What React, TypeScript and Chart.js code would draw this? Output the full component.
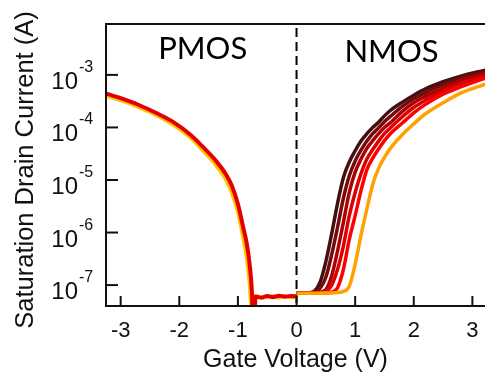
import React, { useEffect, useRef } from 'react';
import { Chart, registerables } from 'chart.js';

Chart.register(...registerables);

// ---- data ----
const X_TICKS = [-3, -2, -1, 0, 1, 2, 3];
const Y_TICKS = [1e-7, 1e-6, 1e-5, 1e-4, 1e-3];
const Y_TICK_EXP = ['-7', '-6', '-5', '-4', '-3'];

// PMOS sweep (gate voltage, V) and saturation drain current (A)
const PMOS_V = [-3.3, -3.0, -2.7, -2.4, -2.1, -1.8, -1.6, -1.4, -1.2, -1.1, -1.0, -0.9, -0.85, -0.8, -0.76, -0.74, -0.72, -0.7, -0.6, -0.5, -0.4, -0.3, -0.2, -0.1, 0];
const PMOS_RED = [4.6e-4, 3.6e-4, 2.7e-4, 1.9e-4, 1.26e-4, 7.1e-5, 4.3e-5, 2.5e-5, 1.26e-5, 7.6e-6, 3.5e-6, 1.12e-6, 6.3e-7, 2.5e-7, 7.1e-8, 1.6e-8, 1.6e-8, 6.0e-8, 5.8e-8, 6.2e-8, 5.9e-8, 6.3e-8, 6.0e-8, 6.2e-8, 6.1e-8];
const PMOS_YELLOW = [4.2e-4, 3.3e-4, 2.45e-4, 1.74e-4, 1.12e-4, 6.3e-5, 3.7e-5, 2.1e-5, 1.0e-5, 5.6e-6, 2.5e-6, 7.1e-7, 3.5e-7, 1.12e-7, 2.5e-8, 1.6e-8, 1.6e-8, 6.3e-8, 5.7e-8, 6.0e-8, 6.1e-8, 5.8e-8, 6.2e-8, 5.9e-8, 6.0e-8];

// NMOS sweep
const NMOS_V = [0, 0.2, 0.3, 0.4, 0.5, 0.6, 0.7, 0.8, 0.9, 1.0, 1.1, 1.2, 1.3, 1.4, 1.5, 1.6, 1.8, 2.0, 2.2, 2.5, 2.8, 3.1, 3.3];
const NMOS_1 = [7.0e-8, 7.1e-8, 7.6e-8, 1.12e-7, 2.8e-7, 9.5e-7, 3.6e-6, 1.12e-5, 2.2e-5, 3.6e-5, 5.5e-5, 7.6e-5, 1.0e-4, 1.26e-4, 1.66e-4, 2.1e-4, 3.0e-4, 4.1e-4, 5.4e-4, 7.4e-4, 9.5e-4, 1.15e-3, 1.29e-3];
const NMOS_2 = [7.0e-8, 7.1e-8, 7.3e-8, 8.6e-8, 1.41e-7, 3.8e-7, 1.26e-6, 4.5e-6, 1.2e-5, 2.3e-5, 3.7e-5, 5.5e-5, 7.6e-5, 9.8e-5, 1.29e-4, 1.62e-4, 2.5e-4, 3.5e-4, 4.6e-4, 6.5e-4, 8.7e-4, 1.07e-3, 1.2e-3];
const NMOS_3 = [7.0e-8, 7.0e-8, 7.1e-8, 7.3e-8, 8.2e-8, 1.51e-7, 4.5e-7, 1.58e-6, 5.8e-6, 1.41e-5, 2.5e-5, 4.0e-5, 5.6e-5, 7.6e-5, 1.0e-4, 1.23e-4, 2.0e-4, 2.95e-4, 3.9e-4, 5.6e-4, 7.8e-4, 9.8e-4, 1.1e-3];
const NMOS_4 = [7.0e-8, 7.0e-8, 7.0e-8, 7.1e-8, 7.5e-8, 1.0e-7, 2.0e-7, 5.6e-7, 2.1e-6, 5.8e-6, 1.32e-5, 2.5e-5, 3.8e-5, 5.5e-5, 7.6e-5, 9.8e-5, 1.58e-4, 2.4e-4, 3.3e-4, 4.9e-4, 6.8e-4, 8.7e-4, 1.0e-3];
const NMOS_5 = [7.0e-8, 7.0e-8, 7.0e-8, 7.1e-8, 7.1e-8, 7.3e-8, 8.9e-8, 2.0e-7, 7.4e-7, 2.1e-6, 6.3e-6, 1.58e-5, 2.6e-5, 3.9e-5, 5.6e-5, 7.6e-5, 1.2e-4, 1.9e-4, 2.75e-4, 4.3e-4, 5.9e-4, 7.8e-4, 9.1e-4];
const NMOS_6 = [7.0e-8, 7.0e-8, 7.0e-8, 7.0e-8, 7.1e-8, 7.1e-8, 7.2e-8, 7.6e-8, 9.5e-8, 2.5e-7, 8.9e-7, 2.8e-6, 8.3e-6, 1.66e-5, 2.7e-5, 4.0e-5, 7.2e-5, 1.17e-4, 1.82e-4, 2.95e-4, 4.5e-4, 6.0e-4, 7.1e-4];

const NMOS_SERIES = [NMOS_1, NMOS_2, NMOS_3, NMOS_4, NMOS_5, NMOS_6];
const NMOS_COLORS = ['#421010', '#760a0a', '#ad0000', '#dc0000', '#ff0000', '#ffa200'];

const X_TITLE = 'Gate Voltage (V)';
const Y_TITLE = 'Saturation Drain Current (A)';

const SANS = '"Liberation Sans", Arial, sans-serif';

const decor = {
  id: 'decor',
  beforeDatasetsDraw(chart: any) {
    const { ctx, chartArea: a, scales } = chart;
    const x0 = scales.x.getPixelForValue(0);
    ctx.save();
    ctx.strokeStyle = '#000';
    ctx.lineWidth = 2;
    ctx.setLineDash([9, 5]);
    ctx.beginPath();
    ctx.moveTo(x0, a.top + 4);
    ctx.lineTo(x0, a.bottom);
    ctx.stroke();
    ctx.restore();
  },
  afterDraw(chart: any) {
    const { ctx, chartArea: a, scales } = chart;
    const xs = scales.x;
    const ys = scales.y;
    ctx.save();
    // frame (left, top, bottom)
    ctx.strokeStyle = '#111';
    ctx.lineWidth = 2;
    ctx.beginPath();
    ctx.moveTo(a.right + 2, a.top);
    ctx.lineTo(a.left, a.top);
    ctx.lineTo(a.left, a.bottom);
    ctx.lineTo(a.right + 2, a.bottom);
    ctx.stroke();

    // x ticks (inward) and labels
    ctx.fillStyle = '#111';
    ctx.font = `22px ${SANS}`;
    ctx.textAlign = 'center';
    ctx.textBaseline = 'alphabetic';
    xs.ticks.forEach((t: any) => {
      const px = xs.getPixelForValue(t.value);
      ctx.beginPath();
      ctx.moveTo(px, a.bottom);
      ctx.lineTo(px, a.bottom - 10);
      ctx.stroke();
      ctx.fillText(String(t.value), px, a.bottom + 31);
    });

    // y ticks (inward) and labels 10^n
    ys.ticks.forEach((t: any, i: number) => {
      const py = ys.getPixelForValue(t.value);
      ctx.beginPath();
      ctx.moveTo(a.left, py);
      ctx.lineTo(a.left + 12, py);
      ctx.stroke();
      ctx.font = `24px ${SANS}`;
      ctx.textAlign = 'right';
      ctx.fillText('10', 78, py + 14);
      ctx.font = `16px ${SANS}`;
      ctx.textAlign = 'left';
      ctx.fillText(Y_TICK_EXP[i], 79, py - 3);
    });

    // axis titles
    ctx.font = `25px ${SANS}`;
    ctx.textAlign = 'center';
    ctx.fillText(X_TITLE, (a.left + a.right) / 2, 367);
    ctx.save();
    ctx.font = `25.5px ${SANS}`;
    ctx.translate(33, 170);
    ctx.rotate(-Math.PI / 2);
    ctx.fillText(Y_TITLE, 0, 0);
    ctx.restore();

    // region labels
    ctx.font = `31px Lato, "Open Sans", sans-serif`;
    ctx.fillStyle = '#000';
    ctx.textAlign = 'center';
    ctx.fillText('PMOS', xs.getPixelForValue(-1.6), ys.getPixelForValue(2.0e-3));
    ctx.fillText('NMOS', xs.getPixelForValue(1.62), ys.getPixelForValue(1.75e-3));
    ctx.restore();
  },
};

export default function App() {
  const ref = useRef<HTMLCanvasElement | null>(null);

  useEffect(() => {
    if (!ref.current) return;
    const toPts = (xsArr: number[], ysArr: number[]) => xsArr.map((v, i) => ({ x: v, y: ysArr[i] }));
    const datasets: any[] = [];
    NMOS_SERIES.forEach((s, i) => {
      datasets.push({
        data: toPts(NMOS_V, s),
        borderColor: NMOS_COLORS[i],
        borderWidth: 3.5,
        order: 10 - i,
        clip: 0,
      });
    });
    datasets.push({ data: toPts(PMOS_V, PMOS_YELLOW), borderColor: '#ffc400', borderWidth: 4, order: 3, clip: 0 });
    datasets.push({ data: toPts(PMOS_V, PMOS_RED), borderColor: '#e40000', borderWidth: 4, order: 2, clip: 0 });

    const chart = new Chart(ref.current, {
      type: 'line',
      data: { datasets },
      options: {
        animation: false,
        responsive: false,
        maintainAspectRatio: false,
        layout: { padding: { top: 24, left: 0, right: 0, bottom: 0 } },
        plugins: { legend: { display: false }, tooltip: { enabled: false }, title: { display: false } },
        elements: { point: { radius: 0 }, line: { cubicInterpolationMode: 'monotone', fill: false } },
        scales: {
          x: {
            type: 'linear',
            min: -3.25,
            max: 3.215,
            grid: { display: false },
            border: { display: false },
            ticks: { display: false },
            afterBuildTicks: (s: any) => { s.ticks = X_TICKS.map((v) => ({ value: v })); },
            afterFit: (s: any) => { s.height = 71; },
          },
          y: {
            type: 'logarithmic',
            min: 4e-8,
            max: 9.3e-3,
            grid: { display: false },
            border: { display: false },
            ticks: { display: false },
            afterBuildTicks: (s: any) => { s.ticks = Y_TICKS.map((v) => ({ value: v })); },
            afterFit: (s: any) => { s.width = 106; },
          },
        },
      } as any,
      plugins: [decor],
    });
    return () => chart.destroy();
  }, []);

  return (
    <div style={{ position: 'absolute', left: 0, top: 0, width: 485, height: 377, background: '#fff' }}>
      <canvas ref={ref} width={485} height={377} style={{ display: 'block' }} />
    </div>
  );
}
